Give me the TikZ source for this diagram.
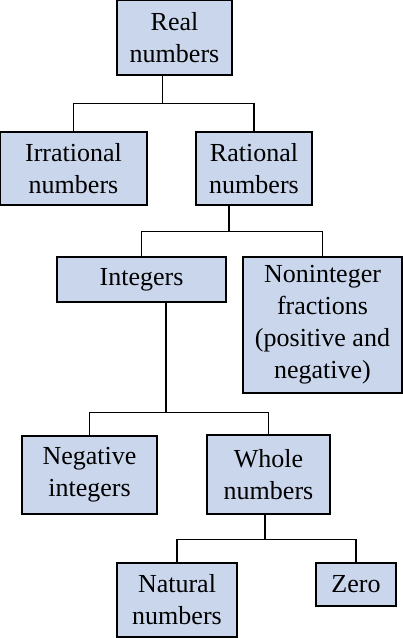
\documentclass[tikz,border=0pt]{standalone}
\usepackage{fontspec}
\setmainfont{Liberation Serif}
\definecolor{boxfill}{RGB}{201,214,236}
\begin{document}
\begin{tikzpicture}[x=1pt,y=1pt,
  box/.style={draw=black,line width=1.2pt,fill=boxfill,rectangle,inner sep=0pt,
    align=center,font=\fontsize{26}{32}\selectfont},
  conn/.style={draw=black,line width=1.2pt}]
\useasboundingbox (0,0) rectangle (403,-638);
\node[box,minimum width=115pt,minimum height=75pt] (real) at (174.5,-37.5) {Real\\numbers};
\node[box,minimum width=147pt,minimum height=73pt] (irr) at (73.5,-168.5) {Irrational\\numbers};
\node[box,minimum width=116pt,minimum height=73pt] (rat) at (254,-168.5) {Rational\\numbers};
\node[box,minimum width=169pt,minimum height=45pt] (int) at (141.5,-279.5) {Integers};
\node[box,minimum width=159pt,minimum height=136pt] (nonint) at (322.5,-325) {Noninteger\\fractions\\(positive and\\negative)};
\node[box,minimum width=135pt,minimum height=78pt] (neg) at (89.5,-475) {Negative\\integers};
\node[box,minimum width=123pt,minimum height=79pt] (whole) at (268.5,-474.5) {Whole\\numbers};
\node[box,minimum width=120pt,minimum height=74pt] (nat) at (177,-600) {Natural\\numbers};
\node[box,minimum width=80pt,minimum height=43pt] (zero) at (356,-584.5) {Zero};
% connectors
\draw[conn] ([xshift=-12.2pt]real.south) -- ++(0,-28) coordinate (j1);
\draw[conn] (irr.north) |- (j1) -| (rat.north);
\draw[conn] ([xshift=-25pt]rat.south) -- ++(0,-26) coordinate (j2);
\draw[conn] (int.north) |- (j2) -| (nonint.north);
\draw[conn] ([xshift=24.5pt]int.south) -- ++(0,-110) coordinate (j3);
\draw[conn] (neg.north) |- (j3) -| (whole.north);
\draw[conn] ([xshift=-3.5pt]whole.south) -- ++(0,-25) coordinate (j4);
\draw[conn] (nat.north) |- (j4) -| (zero.north);
\end{tikzpicture}
\end{document}
